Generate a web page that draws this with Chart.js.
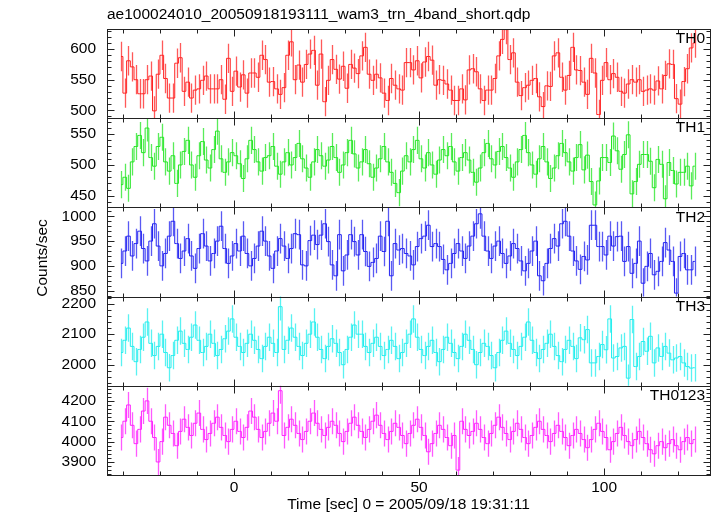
<!DOCTYPE html>
<html>
<head>
<meta charset="utf-8">
<script src="https://cdn.jsdelivr.net/npm/chart.js@4.4.1/dist/chart.umd.min.js"></script>
<style>
html, body { margin: 0; padding: 0; background: #fff; }
#wrap { width: 717px; height: 516px; }
</style>
</head>
<body>
<div id="wrap"><canvas id="lc" width="717" height="516"></canvas></div>
<script>
// light curve, 1 s bins, 4 WAM bands + sum
const plotTitle = 'ae100024010_20050918193111_wam3_trn_4band_short.qdp';
const xTitle = 'Time [sec] 0 = 2005/09/18 19:31:11';
const yTitle = 'Counts/sec';
const bands = ['TH0', 'TH1', 'TH2', 'TH3', 'TH0123'];
const colors = ['#ff2222', '#22e622', '#2222f0', '#22eeee', '#ff22ff'];
const tStart = -30.5;
const binSec = 1;

const th0 = [588, 528, 581, 571, 550, 527, 527, 550, 556, 499, 559, 590, 552, 520, 520, 577, 586, 531, 546, 520,
  533, 535, 549, 556, 535, 535, 535, 550, 518, 585, 531, 564, 538, 558, 528, 561, 561, 554, 590, 583,
  546, 547, 535, 526, 537, 590, 612, 550, 574, 546, 575, 592, 598, 541, 592, 514, 549, 583, 567, 551,
  572, 536, 575, 569, 560,
  589, 603, 559, 549, 559, 553, 528, 516, 552, 541, 535, 533, 578, 578, 566, 581, 553, 579, 588, 582,
  541, 550, 549, 543, 533, 516, 516, 535, 517, 566, 568, 563, 535, 516, 533, 533, 552, 589, 616, 632,
  583, 594, 546, 524, 537, 541, 549, 552, 522, 506, 540, 539, 589, 594, 554, 533, 557, 603, 566, 565,
  546, 526, 585, 561, 493, 549, 578, 550, 560, 554, 531, 528, 543, 550, 546, 550, 531, 533, 535, 533,
  548, 535, 557, 576, 575, 519, 510, 547, 568, 602, 610];
const th1 = [468, 480, 462, 505, 530, 548, 520, 560, 512, 498, 530, 545, 505, 490, 515, 470, 500, 522, 540, 500,
  480, 515, 538, 508, 495, 525, 555, 510, 488, 505, 520, 515, 502, 478, 510, 540, 525, 505, 490, 512,
  515, 530, 498, 485, 505, 520, 500, 512, 535, 510, 495, 480, 505, 525, 515, 498, 508, 530, 512, 488,
  500, 520, 540, 518, 495, 505, 525, 502, 480, 495, 510, 530, 505, 488, 470, 455, 490, 515, 505, 525,
  540, 510, 495, 520, 500, 485, 508, 525, 515, 530, 505, 490, 512, 520, 508, 488, 472, 495, 520, 535,
  510, 500, 522, 530, 512, 495, 480, 505, 525, 548, 520, 500, 485, 510, 530, 505, 478, 495, 515, 535,
  520, 505, 490, 512,
  533, 492, 516, 473, 435, 474, 512, 512, 504, 547, 523, 493, 517, 549, 453, 473, 501, 517, 517, 506,
  463, 509, 501, 445, 504, 491, 469, 488, 488, 498, 466, 498];
const th2 = [905, 930, 960, 920, 945, 970, 935, 910, 950, 985, 940, 900, 925, 960, 990, 945, 915, 930, 955, 920,
  895, 935, 965, 940, 910, 925, 950, 980, 935, 905, 920, 945, 930, 960, 925, 900, 915, 940, 970, 950,
  920, 895, 930, 955, 940, 915, 935, 965,
  963, 902, 900, 951, 962, 943, 962, 985, 949, 902, 880, 963, 890, 922, 963, 949, 922, 963, 929, 899,
  907, 915, 960, 929, 990, 880, 945, 932, 935, 925, 920, 902, 939, 955, 960, 982, 939, 945, 939, 913, 892,
  905, 925, 945, 930, 915, 940, 960, 985, 1005, 960, 930, 915, 940, 950, 925, 905, 920, 945, 935, 910,
  890, 905, 930, 950, 880, 870, 905, 935, 955, 940, 985, 990, 960, 930, 910,
  893, 919, 912, 982, 982, 939, 939, 922, 960, 940, 959, 960, 909, 939, 885, 905, 950, 865, 899, 925,
  882, 889, 909, 947, 932, 909, 845, 919, 925, 892, 892, 909];
const th3 = [2040, 2080, 2120, 2060, 2010, 2050, 2090, 2140, 2070, 2030, 2060, 2100, 2040, 1990, 2030, 2080, 2110, 2070, 2050, 2090,
  2130, 2080, 2040, 2060, 2100, 2070, 2030, 2050, 2085, 2110, 2150, 2090, 2060, 2040, 2070, 2100, 2080, 2050, 2020, 2060,
  2090, 2070, 2040, 2190, 2050, 2080, 2120, 2090, 2060, 2030, 2070, 2100, 2140, 2090, 2050, 2020, 2060, 2085, 2070, 2040,
  2000, 2050, 2090, 2130, 2100, 2100, 2060, 2040, 2070, 2090, 2060, 2030, 2050, 2080, 2060, 2020, 2040, 2070, 2100, 2150,
  2090, 2050, 2030, 2060, 2080, 2040, 2010, 2050, 2090, 2070, 2040, 2020, 2060, 2100, 2080, 2050, 2000, 2040, 2070, 2060,
  2030, 1990, 2040, 2080, 2110, 2070, 2050, 2030, 2060, 2090, 2140, 2080, 2040, 2020, 2050, 2070, 2100, 2060, 2030, 2010,
  2050, 2080, 2060, 2020,
  2088, 2082, 2115, 2006, 2006, 2027, 2066, 2049, 2150, 2022, 2027, 2055, 2060, 1956, 2148, 1994, 2027, 2076, 2044, 2093,
  2006, 2055, 2027, 2060, 2038, 2016, 2022, 2027, 2006, 1994, 1989, 1990];
const th0123 = [4020, 4100, 4180, 4080, 3990, 4060, 4150, 4200, 4100, 4020, 3900, 4000, 4120, 4080, 4040, 3980, 4050, 4110, 4070, 4030,
  4090, 4140, 4060, 4010, 4040, 4090, 4120, 4070, 4030, 4000, 4060, 4100, 4050, 4020, 4070, 4150, 4120, 4060, 4020, 4050,
  4090, 4140, 4100, 4250, 4030, 4070, 4110, 4080, 4040, 4010, 4050, 4100, 4140, 4090, 4060, 4030, 4070, 4100, 4080, 4040,
  4000, 4050, 4090, 4120, 4080, 4050, 4020, 4060, 4100, 4130, 4080, 4040, 4010, 4050, 4090, 4070, 4030, 3990, 4040, 4080,
  4110, 4070, 4030, 3950, 3990, 4040, 4080, 4060, 4020, 3980, 4030, 3860, 4100, 4060, 4030, 4050, 4090, 4060, 4020, 3990,
  4040, 4080, 4120, 4070, 4040, 4010, 4050, 4090, 4060, 4020, 3990, 4030, 4070, 4100, 4060, 4030, 4000, 4040, 4080, 4050,
  4020, 3980, 4030, 4060, 4040, 4010, 3970, 4010, 4060, 4090, 4050, 4020, 3960, 4000, 4040, 4070, 4030, 4000, 3980, 4010,
  4050, 4020, 3990, 3960, 3940, 3980, 4000, 3970, 3990, 4010, 3980, 3960, 4000, 4020, 3990, 4010];
const series = [th0, th1, th2, th3, th0123];
const errHalf = [24, 22, 30, 45, 64];

const yMin = [487, 431, 838, 1931, 3836];
const yMax = [633, 576, 1018, 2223, 4274];
const yTicks = [[500, 550, 600], [450, 500, 550], [850, 900, 950, 1000], [2000, 2100, 2200], [3900, 4000, 4100, 4200]];
const yMinorStep = [10, 10, 10, 20, 20];
const xMin = -34.3, xMax = 128.6;
const xTicks = [0, 50, 100];
const xMinorStep = 10;

const FONT = 'Liberation Sans, Arial, Helvetica, sans-serif';

function toPoints(vals) {
  return vals.map((v, i) => ({ x: tStart + i * binSec, y: v }));
}

const scales = {
  x: {
    type: 'linear', min: xMin, max: xMax,
    grid: { display: false, drawTicks: false },
    border: { display: false },
    afterBuildTicks: s => { s.ticks = xTicks.map(v => ({ value: v })); },
    afterFit: s => { s.height = 41; },
    ticks: { color: '#000', font: { family: FONT, size: 15.5 }, padding: 3, autoSkip: false, maxRotation: 0 }
  }
};
bands.forEach((b, i) => {
  // panels stacked top to bottom in band order
  scales['y' + i] = {
    type: 'linear', position: 'left', stack: 'lc', stackWeight: 1, weight: bands.length - 1 - i,
    min: yMin[i], max: yMax[i],
    grid: { display: false, drawTicks: false },
    border: { display: false },
    afterBuildTicks: s => { s.ticks = yTicks[i].map(v => ({ value: v })); },
    afterFit: s => { s.width = 107; },
    ticks: { color: '#000', font: { family: FONT, size: 15.5 }, padding: 11, autoSkip: false,
      callback: v => String(v) }
  };
});

// error bars, panel frames, inward ticks and texts
const qdpPlugin = {
  id: 'qdp',
  beforeDatasetsDraw(chart) {
    const ctx = chart.ctx, xs = chart.scales.x, ca = chart.chartArea;
    series.forEach((vals, i) => {
      const ys = chart.scales['y' + i];
      ctx.save();
      ctx.beginPath();
      ctx.rect(ca.left, ys.top, ca.right - ca.left, ys.bottom - ys.top);
      ctx.clip();
      ctx.strokeStyle = colors[i];
      ctx.globalAlpha = 0.75;
      ctx.lineWidth = 1.3;
      ctx.beginPath();
      vals.forEach((v, k) => {
        const px = Math.round(xs.getPixelForValue(tStart + k * binSec)) + 0.5;
        ctx.moveTo(px, ys.getPixelForValue(v - errHalf[i]));
        ctx.lineTo(px, ys.getPixelForValue(v + errHalf[i]));
      });
      ctx.stroke();
      ctx.restore();
    });
  },
  afterDatasetsDraw(chart) {
    const ctx = chart.ctx, xs = chart.scales.x, ca = chart.chartArea;
    ctx.save();
    ctx.strokeStyle = '#222';
    ctx.lineWidth = 1;
    series.forEach((vals, i) => {
      const ys = chart.scales['y' + i];
      const top = Math.round(ys.top) + 0.5, bot = Math.round(ys.bottom) + 0.5;
      const l = Math.round(ca.left) + 0.5, r = Math.round(ca.right) + 0.5;
      ctx.strokeRect(l, top, r - l, bot - top);
      ctx.beginPath();
      // x ticks on top and bottom of each panel
      for (let t = Math.ceil(xMin / xMinorStep) * xMinorStep; t <= xMax; t += xMinorStep) {
        const px = Math.round(xs.getPixelForValue(t)) + 0.5;
        const len = xTicks.includes(t) ? 7 : 4;
        ctx.moveTo(px, top); ctx.lineTo(px, top + len);
        ctx.moveTo(px, bot); ctx.lineTo(px, bot - len);
      }
      // y ticks on left and right
      for (let v = Math.ceil(yMin[i] / yMinorStep[i]) * yMinorStep[i]; v <= yMax[i]; v += yMinorStep[i]) {
        const py = Math.round(ys.getPixelForValue(v)) + 0.5;
        const len = yTicks[i].includes(v) ? 7 : 4;
        ctx.moveTo(l, py); ctx.lineTo(l + len, py);
        ctx.moveTo(r, py); ctx.lineTo(r - len, py);
      }
      ctx.stroke();
      // band label
      ctx.fillStyle = '#000';
      ctx.font = '15.5px ' + FONT;
      ctx.textAlign = 'right';
      ctx.textBaseline = 'middle';
      ctx.fillText(bands[i], ca.right - 5, ys.top + 10);
    });
    ctx.fillStyle = '#000';
    ctx.textBaseline = 'middle';
    ctx.font = '15.5px ' + FONT;
    ctx.textAlign = 'left';
    ctx.fillText(plotTitle, ca.left, 15);
    ctx.textAlign = 'center';
    ctx.fillText(xTitle, (ca.left + ca.right) / 2, 505);
    ctx.translate(43, (ca.top + ca.bottom) / 2 + 6);
    ctx.rotate(-Math.PI / 2);
    ctx.fillText(yTitle, 0, 0);
    ctx.restore();
  }
};

new Chart(document.getElementById('lc').getContext('2d'), {
  type: 'line',
  data: {
    datasets: series.map((vals, i) => ({
      label: bands[i],
      data: toPoints(vals),
      yAxisID: 'y' + i,
      borderColor: colors[i],
      borderWidth: 1,
      pointRadius: 0,
      stepped: 'middle',
      fill: false
    }))
  },
  options: {
    responsive: false,
    animation: false,
    layout: { padding: { top: 29, right: 7, left: 0, bottom: 0 } },
    plugins: { legend: { display: false }, tooltip: { enabled: false } },
    scales: scales
  },
  plugins: [qdpPlugin]
});
</script>
</body>
</html>
